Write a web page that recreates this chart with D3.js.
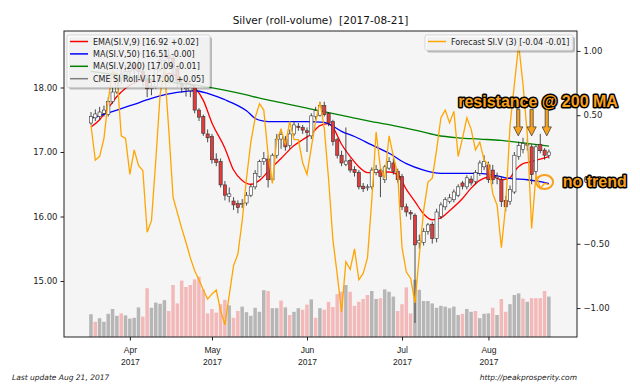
<!DOCTYPE html>
<html>
<head>
<meta charset="utf-8">
<script src="https://cdn.jsdelivr.net/npm/d3@7"></script>
<style>
  body { margin: 0; background: #fff; }
  svg { font-family: "DejaVu Sans", sans-serif; }
</style>
</head>
<body>
<svg id="chart" width="640" height="384"></svg>
<script>
// CME SI roll-volume continuous contract, one row per trading day (Mar 21 .. Aug 21, 2017)
// [open, high, low, close]
const ohlc = [
  [17.45,17.62,17.42,17.55],[17.53,17.66,17.48,17.59],[17.55,17.70,17.50,17.62],[17.60,17.72,17.55,17.65],
  [17.58,17.85,17.55,17.78],[17.78,18.00,17.75,17.93],[17.93,18.22,17.90,18.15],[18.15,18.30,18.05,18.20],
  [18.20,18.35,18.10,18.25],[18.25,18.42,18.15,18.35],[18.35,18.40,18.20,18.28],[18.30,18.45,18.15,18.25],
  [18.25,18.30,18.02,18.10],[18.10,18.20,17.85,17.98],[17.98,18.08,17.88,18.02],[18.02,18.32,17.98,18.28],
  [18.28,18.50,18.25,18.42],[18.42,18.60,18.38,18.50],[18.50,18.60,18.38,18.45],[18.45,18.50,18.20,18.30],
  [18.30,18.35,18.00,18.10],[18.05,18.12,17.92,18.02],[17.98,18.08,17.86,18.00],[17.95,18.06,17.85,18.00],
  [18.00,18.03,17.60,17.65],[17.65,17.68,17.48,17.54],[17.55,17.58,17.25,17.29],[17.28,17.35,17.15,17.22],
  [17.24,17.28,16.82,16.88],[16.89,16.98,16.78,16.84],[16.85,16.90,16.45,16.49],[16.49,16.55,16.25,16.33],
  [16.31,16.45,16.22,16.35],[16.24,16.30,16.10,16.18],[16.20,16.25,16.05,16.14],[16.19,16.27,16.13,16.20],
  [16.21,16.38,16.17,16.33],[16.33,16.50,16.30,16.46],[16.46,16.72,16.42,16.67],[16.62,16.88,16.60,16.85],
  [16.85,17.00,16.80,16.90],[16.89,16.95,16.45,16.57],[16.57,16.98,16.52,16.95],[16.95,17.28,16.90,17.20],
  [17.20,17.35,17.05,17.27],[17.20,17.25,17.02,17.08],[17.10,17.35,17.05,17.28],[17.28,17.48,17.25,17.42],
  [17.40,17.45,17.33,17.38],[17.38,17.42,17.28,17.34],[17.33,17.38,17.00,17.30],[17.25,17.60,17.20,17.56],
  [17.55,17.70,17.50,17.64],[17.57,17.78,17.55,17.72],[17.72,17.78,17.55,17.58],[17.60,17.62,17.40,17.45],
  [17.47,17.50,17.10,17.16],[17.19,17.22,16.90,16.95],[16.95,17.02,16.78,16.83],[16.81,17.38,16.78,16.86],
  [16.87,16.90,16.68,16.72],[16.73,16.78,16.62,16.68],[16.68,16.72,16.42,16.46],[16.47,16.52,16.38,16.43],
  [16.45,16.50,16.40,16.46],[16.46,16.76,16.42,16.72],[16.68,16.80,16.64,16.73],[16.72,16.76,16.30,16.62],
  [16.57,16.80,16.52,16.77],[16.75,16.92,16.72,16.85],[16.83,16.90,16.65,16.70],[16.70,16.74,16.52,16.57],
  [16.62,16.66,16.10,16.15],[16.15,16.20,16.00,16.07],[16.06,16.10,15.95,16.04],[16.02,16.05,14.35,15.56],
  [15.59,15.72,15.50,15.63],[15.60,15.82,15.55,15.77],[15.77,15.90,15.72,15.87],[15.88,15.92,15.58,15.66],
  [15.66,16.12,15.60,16.07],[16.00,16.22,15.96,16.18],[16.15,16.30,16.10,16.26],[16.23,16.35,16.20,16.29],
  [16.26,16.42,16.22,16.38],[16.33,16.50,16.30,16.46],[16.52,16.55,16.42,16.47],[16.46,16.64,16.42,16.60],
  [16.58,16.63,16.48,16.52],[16.54,16.72,16.50,16.68],[16.67,16.87,16.63,16.83],[16.77,16.95,16.72,16.85],
  [16.80,16.85,16.52,16.57],[16.72,16.80,16.50,16.57],[16.60,16.68,16.50,16.62],[16.57,16.62,16.15,16.23],
  [16.25,16.32,16.08,16.15],[16.23,16.48,16.18,16.42],[16.38,17.00,16.35,16.95],[16.93,17.16,16.88,17.10],
  [17.04,17.22,16.98,17.13],[17.10,17.20,17.02,17.12],[17.08,17.12,16.50,16.65],[16.70,17.12,16.65,17.08],
  [17.12,17.28,16.98,17.02],[17.03,17.06,16.88,16.95],[16.95,17.04,16.90,17.00]
];

// daily volume (thousand contracts) and bar colour: g = grey, p = pink
const volume = [57,38,47,38,58,70,53,59,54,46, 48,74,51,122,73,86,83,92,65,130,
  84,141,125,130,144,151,119,59,70,61, 82,93,79,48,65,76,62,53,73,63,
  117,115,72,72,91,74,55,63,72,68, 81,94,48,72,68,88,75,107,113,130,
  113,78,88,95,105,115,95,97,119,113, 101,65,82,124,59,143,118,90,90,84,
  73,78,76,72,76,55,58,70,63,65, 47,58,59,73,55,95,63,82,105,109,
  96,88,97,97,97,115,101];
const volColor = 'gpgggggpgg' + 'ggppggggpp' + 'pppppppppp' + 'ppgppggggg' + 'gpggpgpggp' +
  'pgpgpppppg' + 'pppppggpgg' + 'gppppggggg' + 'ggggggpggp' + 'gggpgppggg' + 'pgppppg';

// forecast SI.V (3), right axis
const forecast = [0.42,0.15,0.18,0.32,0.62,0.84,0.82,0.34,0.32,0.04,
  0.23,0.11,0.07,-0.41,-0.32,0.15,0.66,0.87,0.39,-0.14,
  -0.26,-0.38,-0.49,-0.61,-0.71,-0.78,-0.86,-0.93,-0.89,-0.86,
  -1.02,-1.13,-0.90,-0.67,-0.58,-0.32,0.01,0.29,0.48,0.59,
  0.54,0.19,-0.03,0.31,0.39,0.27,0.45,0.31,0.31,0.13,
  0.04,0.25,0.45,0.60,0.40,0.00,-0.47,-0.74,-1.03,-0.64,
  -0.70,-0.54,-0.78,-0.73,-0.61,-0.16,0.37,0.09,0.01,0.34,
  0.18,0.04,-0.53,-0.72,-0.77,-0.96,-0.59,-0.24,-0.02,0.01,
  0.23,0.48,0.54,0.44,0.53,0.18,0.32,0.48,0.39,0.23,
  0.29,0.15,0.12,-0.11,-0.20,-0.53,-0.20,0.42,0.74,1.05,
  0.74,0.35,-0.38,0.04,-0.07,-0.03,-0.04];

// moving averages: [day index, value]
const emaPts = [[0,17.39],[2,17.5],[4,17.68],[6,17.86],[8,17.99],[10,18.07],[12,18.12],[14,18.1],
  [16,18.15],[18,18.22],[20,18.17],[22,18.09],[24,18.0],[26,17.8],[28,17.45],[31,17.06],[33,16.72],
  [35,16.56],[37,16.5],[39,16.56],[41,16.7],[42,16.77],[44,16.9],[47,17.1],[49,17.19],[51,17.28],
  [53,17.41],[55,17.44],[56,17.38],[58,17.12],[60,16.93],[62,16.77],[64,16.68],[67,16.69],[69,16.69],
  [71,16.65],[73,16.42],[75,16.23],[77,16.04],[79,15.95],[81,15.98],[83,16.09],[86,16.28],[88,16.44],
  [90,16.56],[93,16.62],[95,16.57],[97,16.6],[98,16.7],[100,16.82],[102,16.85],[104,16.89],[106,16.93]];
const ma50Pts = [[0,17.52],[6,17.65],[10,17.74],[14,17.83],[18,17.9],[22,17.94],[24,17.95],[27,17.91],
  [31,17.81],[34,17.72],[36,17.64],[38,17.52],[40,17.48],[42,17.47],[46,17.47],[50,17.47],[54,17.46],
  [56,17.4],[58,17.32],[61,17.24],[65,17.11],[69,16.98],[73,16.82],[77,16.72],[81,16.67],[85,16.67],
  [90,16.67],[94,16.63],[97,16.59],[101,16.57],[104,16.54],[106,16.51]];
const ma200Pts = [[0,18.25],[10,18.16],[20,18.07],[25,18.03],[30,17.97],[35,17.9],[40,17.82],[45,17.75],
  [50,17.68],[55,17.61],[60,17.54],[65,17.47],[70,17.41],[75,17.34],[80,17.26],[85,17.22],[90,17.2],
  [95,17.18],[100,17.14],[106,17.09]];

// axis ticks
const monthIdx = [9, 28, 50, 72, 92];
const monthLbl = ['Apr', 'May', 'Jun', 'Jul', 'Aug'];
const priceTicks = [15, 16, 17, 18];
const fcTicks = [-1, -0.5, 0, 0.5, 1];

const leftLegend = [
  ['EMA(SI.V,9) [16.92 +0.02]', '#ff0000'],
  ['MA(SI.V,50) [16.51 -0.00]', '#0000ff'],
  ['MA(SI.V,200) [17.09 -0.01]', '#008000'],
  ['CME SI Roll-V [17.00 +0.05]', '#808080']
];
const rightLegend = [['Forecast SI.V (3) [-0.04 -0.01]', '#ffa500']];

// annotation anchors (day index)
const arrowIdx = [98.9, 102, 105.5];

const svg = d3.select('#chart');
const margin = { top: 31, right: 63, bottom: 47, left: 64 };
const innerWidth = 640 - margin.left - margin.right;
const innerHeight = 384 - margin.top - margin.bottom;

const x = d3.scaleLinear().domain([-6.25, 112.5]).range([0, innerWidth]);
const y = d3.scaleLinear().domain([14.132, 18.876]).range([innerHeight, 0]);
const yR = d3.scaleLinear().domain([-1.225, 1.155]).range([innerHeight, 0]);
const yV = d3.scaleLinear().domain([0, 300]).range([innerHeight, innerHeight - 120]);

const g = svg.append('g').attr('transform', `translate(${margin.left},${margin.top})`);

svg.append('defs').append('clipPath').attr('id', 'plotClip')
  .append('rect').attr('width', innerWidth).attr('height', innerHeight);

g.append('rect').attr('width', innerWidth).attr('height', innerHeight).attr('fill', '#f5f5f5');

const plot = g.append('g').attr('clip-path', 'url(#plotClip)');

// volume bars
plot.selectAll('.vol').data(volume).enter().append('rect')
  .attr('class', 'vol')
  .attr('x', (d, i) => x(i) - 1.8)
  .attr('width', 3.5)
  .attr('y', d => yV(d))
  .attr('height', d => innerHeight - yV(d))
  .attr('fill', (d, i) => volColor[i] === 'p' ? '#f3b9b9' : '#b6b6b6');

// moving averages
const maLine = d3.line().x(d => x(d[0])).y(d => y(d[1])).curve(d3.curveMonotoneX);
[[emaPts, '#ff0000'], [ma50Pts, '#0000ff'], [ma200Pts, '#008000']].forEach(([pts, c]) => {
  plot.append('path').datum(pts)
    .attr('d', maLine)
    .attr('fill', 'none')
    .attr('stroke', c)
    .attr('stroke-width', 1.3);
});

// candles
const candles = plot.selectAll('.candle').data(ohlc).enter().append('g').attr('class', 'candle');
candles.append('line')
  .attr('x1', (d, i) => x(i)).attr('x2', (d, i) => x(i))
  .attr('y1', d => y(d[1])).attr('y2', d => y(d[2]))
  .attr('stroke', '#222').attr('stroke-width', 0.8);
candles.append('rect')
  .attr('x', (d, i) => x(i) - 1.6)
  .attr('width', 3.2)
  .attr('y', d => y(Math.max(d[0], d[3])))
  .attr('height', d => Math.max(1, Math.abs(y(d[0]) - y(d[3]))))
  .attr('fill', d => d[3] < d[0] ? '#e23b3b' : '#ffffff')
  .attr('stroke', '#333').attr('stroke-width', 0.6);

// legend helper
function drawLegend(x0, y0, w, items) {
  const h = items.length * 12.4 + 3;
  const lg = svg.append('g').attr('transform', `translate(${x0},${y0})`);
  lg.append('rect').attr('x', 2).attr('y', 2).attr('width', w).attr('height', h)
    .attr('rx', 2).attr('fill', '#000').attr('opacity', 0.25);
  lg.append('rect').attr('width', w).attr('height', h).attr('rx', 2)
    .attr('fill', '#fff').attr('fill-opacity', 0.8).attr('stroke', '#cccccc').attr('stroke-width', 0.8);
  items.forEach((it, i) => {
    const cy = 6.5 + i * 12.4;
    lg.append('line').attr('x1', 3).attr('x2', 21).attr('y1', cy).attr('y2', cy)
      .attr('stroke', it[1]).attr('stroke-width', 1.5);
    lg.append('text').attr('x', 26).attr('y', cy + 3)
      .attr('font-size', 8).attr('fill', '#222').text(it[0]);
  });
}
drawLegend(67, 35, 143, leftLegend);

// forecast on the right axis
g.append('g').attr('clip-path', 'url(#plotClip)').append('path').datum(forecast)
  .attr('d', d3.line().x((d, i) => x(i)).y(d => yR(d)))
  .attr('fill', 'none').attr('stroke', '#ffa500').attr('stroke-width', 1.3);

drawLegend(425, 35, 148, rightLegend);

// frame
g.append('rect').attr('width', innerWidth).attr('height', innerHeight)
  .attr('fill', 'none').attr('stroke', '#222').attr('stroke-width', 1);

// axes
const tickFont = 8.5;
const styleAxis = sel => {
  sel.select('.domain').remove();
  sel.selectAll('.tick line').attr('stroke', '#222');
  sel.selectAll('text').attr('font-size', tickFont).attr('fill', '#222').attr('font-family', '"DejaVu Sans", sans-serif');
};
g.append('g').call(d3.axisLeft(y).tickValues(priceTicks).tickFormat(d3.format('.2f')).tickSize(3.5).tickPadding(3)).call(styleAxis);
g.append('g').attr('transform', `translate(${innerWidth},0)`)
  .call(d3.axisRight(yR).tickValues(fcTicks).tickFormat(d3.format('.2f')).tickSize(3.5).tickPadding(3)).call(styleAxis);
const xAxis = g.append('g').attr('transform', `translate(0,${innerHeight})`)
  .call(d3.axisBottom(x).tickValues(monthIdx).tickFormat('').tickSize(3.5)).call(styleAxis);
xAxis.selectAll('.tick').each(function (d, i) {
  const t = d3.select(this).append('text').attr('text-anchor', 'middle')
    .attr('font-size', tickFont).attr('fill', '#222');
  t.append('tspan').attr('x', 0).attr('y', 16).attr('font-size', tickFont).text(monthLbl[i]);
  t.append('tspan').attr('x', 0).attr('y', 27.5).attr('font-size', tickFont).text('2017');
});

// title and footers
svg.append('text').attr('x', margin.left + innerWidth / 2).attr('y', 24)
  .attr('text-anchor', 'middle').attr('font-size', 10.5).attr('fill', '#111')
  .style('white-space', 'pre')
  .text('Silver (roll-volume)  [2017-08-21]');
svg.append('text').attr('x', 12).attr('y', 380).attr('font-size', 7.5)
  .attr('font-style', 'italic').attr('fill', '#222').text('Last update Aug 21, 2017');
svg.append('text').attr('x', margin.left + innerWidth).attr('y', 380).attr('font-size', 7.5)
  .attr('text-anchor', 'end').attr('font-style', 'italic').attr('fill', '#222')
  .text('http://peakprosperity.com');

// annotations
const orange = '#f7a11e';
const annFont = '"Liberation Sans", Arial, sans-serif';
const ann = g.append('g');
ann.append('text').attr('x', x(85)).attr('y', y(17.70))
  .style('font-family', annFont).style('font-weight', 'bold').style('font-size', '16px')
  .attr('fill', orange).attr('stroke', '#000').attr('stroke-width', 3)
  .attr('stroke-linejoin', 'round').attr('paint-order', 'stroke')
  .text('resistance @ 200 MA');
arrowIdx.forEach(i => {
  const cx = x(i), top = y(17.66), tip = y(17.25), neck = tip - 9;
  ann.append('path')
    .attr('d', `M${cx - 1.6},${top} L${cx + 1.6},${top} L${cx + 1.6},${neck} L${cx + 4.6},${neck} L${cx},${tip} L${cx - 4.6},${neck} L${cx - 1.6},${neck} Z`)
    .attr('fill', orange).attr('stroke', '#333').attr('stroke-width', 0.7);
});
ann.append('ellipse').attr('cx', x(105)).attr('cy', yR(-0.02)).attr('rx', 8.5).attr('ry', 7)
  .attr('fill', 'none').attr('stroke', orange).attr('stroke-width', 2);
ann.append('text').attr('x', x(109.2)).attr('y', y(16.46))
  .style('font-family', annFont).style('font-weight', 'bold').style('font-size', '16px')
  .attr('fill', orange).attr('stroke', '#000').attr('stroke-width', 3)
  .attr('stroke-linejoin', 'round').attr('paint-order', 'stroke')
  .text('no trend');
</script>
</body>
</html>
